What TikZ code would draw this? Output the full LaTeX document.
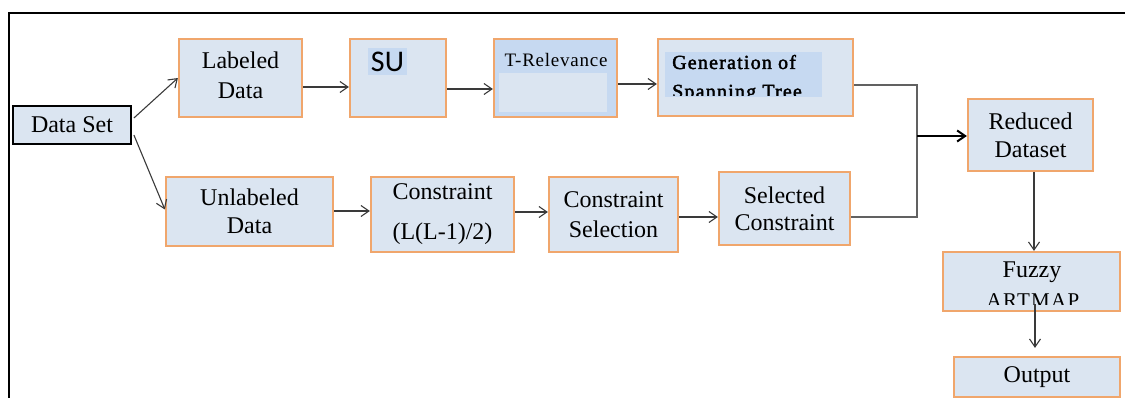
\documentclass[tikz,border=0pt]{standalone}
\usepackage{fontspec}
\setmainfont{Liberation Serif}
\newfontfamily\calib{Carlito}
\usetikzlibrary{arrows.meta}
\definecolor{boxfill}{HTML}{DBE5F1}
\definecolor{boxline}{HTML}{F0A66C}
\definecolor{hl}{HTML}{C6D9F1}
\definecolor{conn}{HTML}{3A3A3A}
\begin{document}
\begin{tikzpicture}[x=1pt,y=-1pt,
  box/.style={draw=boxline, fill=boxfill, line width=2.2pt, inner sep=0pt, align=center, font=\fontsize{24}{29}\selectfont},
  txt/.style={inner sep=0pt},
  arr/.style={draw=conn, line width=1.1pt, -{Straight Barb[length=8pt,width=11pt]}},
  ln/.style={draw=conn!80, line width=1.3pt}]
\useasboundingbox (0,0) rectangle (1125,398);
\draw[line width=2pt] (9,398) -- (9,13) -- (1125,13);

% top row
\node[box, draw=black, line width=1.8pt, minimum width=118pt, minimum height=38pt] (ds) at (72,125) {Data Set};
\node[box, minimum width=123pt, minimum height=78pt] (lab) at (240.5,78) {};
\node[txt, align=center, font=\fontsize{24}{30}\selectfont] (labt) at (240.5,75) {Labeled\\Data};
\node[box, minimum width=96pt, minimum height=78pt] (su) at (398,78) {};
\node[txt, fill=hl, minimum width=39pt, minimum height=27pt, font=\calib\fontsize{30}{30}\selectfont] (sut) at (387.5,61.5) {SU};
\node[box, fill=hl, minimum width=123pt, minimum height=78pt] (tr) at (555.5,78) {};
\fill[boxfill] (499,73) rectangle (607,112);
\node[txt, font=\fontsize{19}{19}\selectfont\addfontfeatures{LetterSpace=4}] (trt) at (556,60) {T-Relevance};
\node[box, minimum width=195pt, minimum height=77pt] (gen) at (755.5,77.5) {};
\fill[hl] (665,52) rectangle (822,97);
\begin{scope}
\clip (665,40) rectangle (822,96);
\node[txt, anchor=base west, font=\fontsize{20}{20}\selectfont\addfontfeatures{LetterSpace=6,FakeBold=2}] (gen1) at (672,69) {Generation of};
\node[txt, anchor=base west, font=\fontsize{20}{20}\selectfont\addfontfeatures{LetterSpace=6,FakeBold=2}] (gen2) at (672,98) {Spanning Tree};
\end{scope}

% bottom row
\node[box, minimum width=167pt, minimum height=69pt, font=\fontsize{24}{28}\selectfont] (unl) at (249.5,211.5) {Unlabeled\\Data};
\node[box, minimum width=143pt, minimum height=75pt, font=\fontsize{24}{40}\selectfont] (con) at (442.5,214.5) {Constraint\\(L(L-1)/2)};
\node[box, minimum width=129pt, minimum height=75pt, font=\fontsize{24}{30}\selectfont] (sel) at (613.5,214.5) {Constraint\\Selection};
\node[box, minimum width=131pt, minimum height=73pt, font=\fontsize{24}{27}\selectfont] (scon) at (784.5,208.5) {Selected\\Constraint};

% right column
\node[box, minimum width=125pt, minimum height=72pt, font=\fontsize{24}{28}\selectfont] (red) at (1030.5,135) {Reduced\\Dataset};
\node[box, minimum width=177pt, minimum height=59pt] (fuz) at (1031.5,281.5) {};
\node[txt, anchor=base, font=\fontsize{24}{24}\selectfont] (fuzt) at (1032,277) {Fuzzy};
\begin{scope}
\clip (944,253) rectangle (1119,304);
\node[txt, anchor=base, font=\fontsize{21}{21}\selectfont\addfontfeatures{LetterSpace=6}] (art) at (1033,307) {ARTMAP};
\end{scope}
\node[box, minimum width=166pt, minimum height=40pt] (out) at (1037,377) {Output};

% connectors
\draw[arr] ([shift={(2pt,7pt)}]ds.east) -- (lab.west);
\draw[arr] ([shift={(2pt,-10pt)}]ds.east) -- ([yshift=2pt]unl.west);
\draw[arr] ([yshift=-9pt]lab.east) -- ([yshift=-9pt]lab.east -| su.west);
\draw[arr] ([yshift=-11pt]su.east) -- ([yshift=-11pt]su.east -| tr.west);
\draw[arr] ([yshift=-6pt]tr.east) -- ([yshift=-6pt]tr.east -| gen.west);
\draw[arr] ([yshift=0.5pt]unl.east) -- ([yshift=0.5pt]unl.east -| con.west);
\draw[arr] ([yshift=2.5pt]con.east) -- ([yshift=2.5pt]con.east -| sel.west);
\draw[arr] ([yshift=-2.5pt]sel.east) -- ([yshift=-2.5pt]sel.east -| scon.west);

\coordinate (jt) at (917,85);
\coordinate (jb) at (917,217);
\coordinate (jm) at (917,136);
\draw[ln] ([yshift=-7.5pt]gen.east) -- (jt) -- (jb) -- ([yshift=-8.5pt]scon.east);
\draw[arr, draw=black, line width=2pt] (jm) -- (jm -| red.west);
\draw[arr] ([xshift=3.5pt]red.south) -- ([xshift=3.5pt]red.south |- fuz.north);
\draw[arr] ([shift={(3.5pt,8pt)}]fuz.south) -- ([shift={(3.5pt,8pt)}]fuz.south |- out.north);
\end{tikzpicture}
\end{document}
